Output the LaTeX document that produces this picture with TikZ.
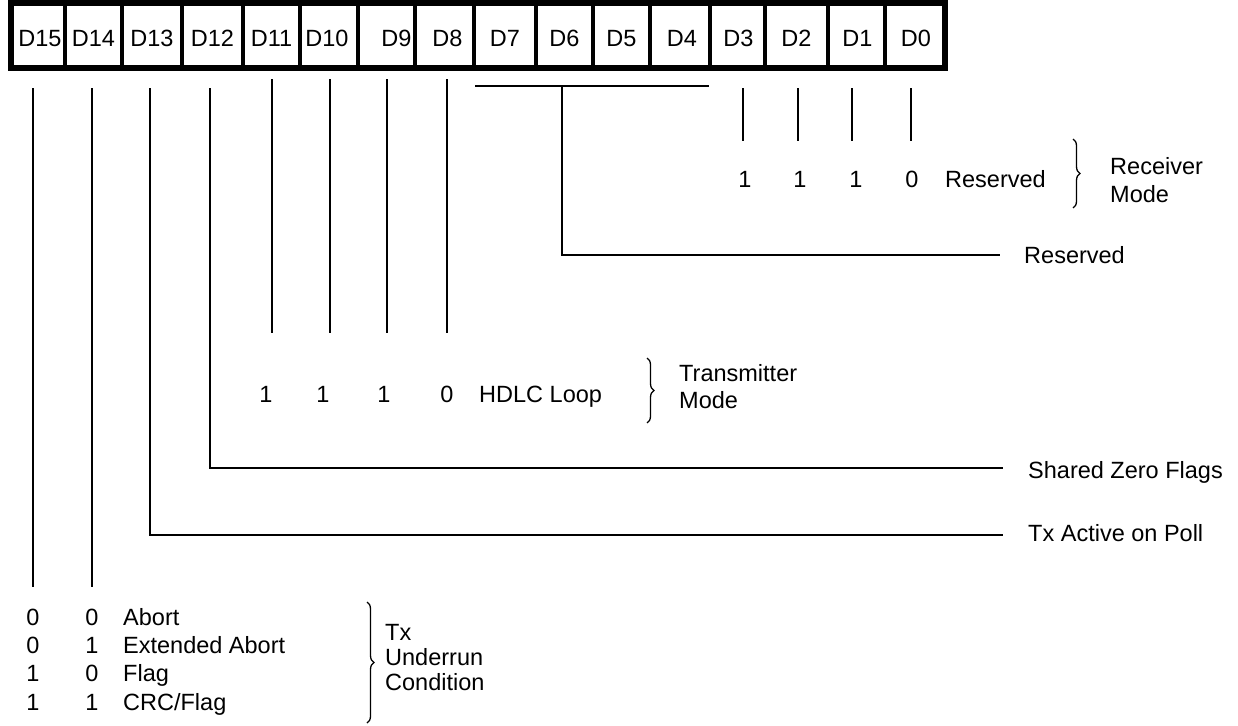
\documentclass[tikz,border=0pt]{standalone}
\usepackage{fontspec}
\setmainfont{Liberation Sans}
\usetikzlibrary{decorations.pathreplacing}
\begin{document}
\begin{tikzpicture}[x=1pt,y=-1pt,
  every node/.style={font=\fontsize{23.5}{28}\selectfont, inner sep=0pt, text height=16.8pt, text depth=0pt},
  lbl/.style={anchor=west},
  wire/.style={line width=2pt},
  outerbox/.style={line width=6pt},
  cellsep/.style={line width=4.5pt},
  brc/.style={decorate, decoration={brace, amplitude=7pt}, line width=1.3pt}]
\useasboundingbox (0,0) rectangle (1238,725);
% register
\draw[outerbox] (11,3) rectangle (945,68);
\foreach \n/\a/\b/\o in {15/11/65/2, 14/65/122/0, 13/122/182/0, 12/182/243/0, 11/243/300/0, 10/300/358/-2, 9/358/415/10, 8/415/474/3, 7/474/536/0, 6/536/593/0, 5/593/650/0, 4/650/710/2, 3/710/765/1, 2/765/828/0, 1/828/885/1, 0/885/945/1}{
  \node (d\n) at ({(\a+\b)/2+\o},38) {D\n};
}
\foreach \x in {65,122,182,243,300,358,415,474,536,593,650,710,765,828,885}{
  \draw[cellsep] (\x,3) -- (\x,68);
}
% coordinates for connectors
\coordinate (t15a) at (33,88);  \coordinate (t15b) at (33,587);
\coordinate (t14a) at (92,88);  \coordinate (t14b) at (92,587);
\coordinate (t13a) at (150,88); \coordinate (e13) at (1003,535);
\coordinate (t12a) at (210,88); \coordinate (e12) at (1003,468);
\coordinate (t11a) at (272,79); \coordinate (t11b) at (272,333);
\coordinate (t10a) at (330,79); \coordinate (t10b) at (330,333);
\coordinate (t9a) at (387,79);  \coordinate (t9b) at (387,333);
\coordinate (t8a) at (447,79);  \coordinate (t8b) at (447,333);
\coordinate (h74a) at (475,86); \coordinate (h74b) at (709,86);
\coordinate (h74m) at (562,86); \coordinate (e74) at (1000,255);
\coordinate (t3a) at (743,88);  \coordinate (t3b) at (743,141);
\coordinate (t2a) at (798,88);  \coordinate (t2b) at (798,141);
\coordinate (t1a) at (852,88);  \coordinate (t1b) at (852,141);
\coordinate (t0a) at (911,88);  \coordinate (t0b) at (911,141);
% connectors
\draw[wire] (t15a) -- (t15b);
\draw[wire] (t14a) -- (t14b);
\draw[wire] (t13a) |- (e13);
\draw[wire] (t12a) |- (e12);
\draw[wire] (t11a) -- (t11b);
\draw[wire] (t10a) -- (t10b);
\draw[wire] (t9a) -- (t9b);
\draw[wire] (t8a) -- (t8b);
\draw[wire] (h74a) -- (h74b);
\draw[wire] (h74m) |- (e74);
\draw[wire] (t3a) -- (t3b);
\draw[wire] (t2a) -- (t2b);
\draw[wire] (t1a) -- (t1b);
\draw[wire] (t0a) -- (t0b);
% receiver mode
\node (r3) at (745,179) {1};
\node (r2) at (800,179) {1};
\node (r1) at (856,179) {1};
\node (r0) at (912,179) {0};
\node[lbl] (rres) at (945,179) {Reserved};
\coordinate (rb1) at (1073,139); \coordinate (rb2) at (1073,208);
\draw[brc] (rb1) -- (rb2);
\node[lbl] (rm1) at (1110,166) {Receiver};
\node[lbl] (rm2) at (1110,194) {Mode};
% reserved
\node[lbl] (res74) at (1024,255) {Reserved};
% transmitter mode
\node (x11) at (266,394) {1};
\node (x10) at (323,394) {1};
\node (x9) at (384,394) {1};
\node (x8) at (447,394) {0};
\node[lbl] (hdlc) at (479,394) {HDLC Loop};
\coordinate (tb1) at (647,358); \coordinate (tb2) at (647,423);
\draw[brc] (tb1) -- (tb2);
\node[lbl] (tm1) at (679,373) {Transmitter};
\node[lbl] (tm2) at (679,400) {Mode};
% D12, D13 labels
\node[lbl] (szf) at (1028,470) {Shared Zero Flags};
\node[lbl] (tap) at (1028,533) {Tx Active on Poll};
% underrun table
\node (u1a) at (33,617) {0}; \node (u1b) at (92,617) {0}; \node[lbl] (u1t) at (123,617) {Abort};
\node (u2a) at (33,645) {0}; \node (u2b) at (92,645) {1}; \node[lbl] (u2t) at (123,645) {Extended Abort};
\node (u3a) at (33,673) {1}; \node (u3b) at (92,673) {0}; \node[lbl] (u3t) at (123,673) {Flag};
\node (u4a) at (33,702) {1}; \node (u4b) at (92,702) {1}; \node[lbl] (u4t) at (123,702) {CRC/Flag};
\coordinate (ub1) at (367,602); \coordinate (ub2) at (367,723);
\draw[brc] (ub1) -- (ub2);
\node[lbl] (uc1) at (385,632) {Tx};
\node[lbl] (uc2) at (385,657) {Underrun};
\node[lbl] (uc3) at (385,682) {Condition};
\end{tikzpicture}
\end{document}
